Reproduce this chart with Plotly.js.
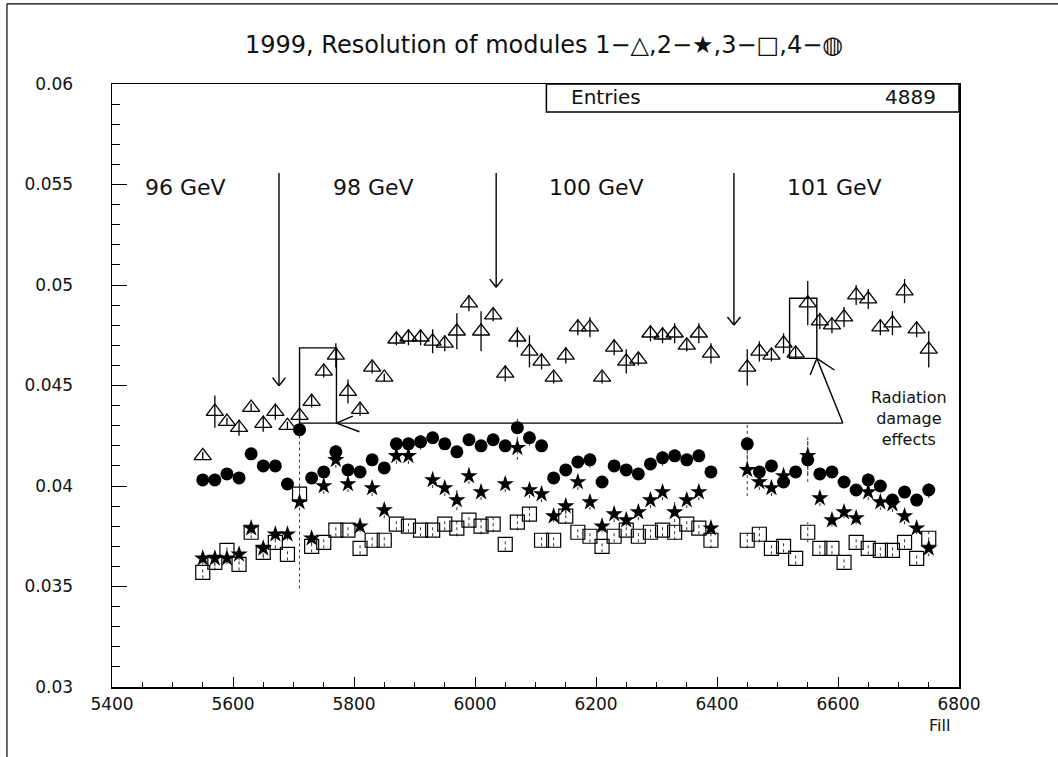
<!DOCTYPE html>
<html>
<head>
<meta charset="utf-8">
<script src="https://cdn.plot.ly/plotly-3.0.1.min.js"></script>
<style>html,body{margin:0;padding:0;background:#fff;}#chart{width:1058px;height:757px;}</style>
</head>
<body>
<div id="chart"></div>
<script>
// Fill numbers (bins)
const fills = [5550,5570,5590,5610,5630,5650,5670,5690,5710,5730,5750,5770,5790,5810,5830,5850,5870,5890,5910,5930,5950,5970,5990,6010,6030,6050,6070,6090,6110,6130,6150,6170,6190,6210,6230,6250,6270,6290,6310,6330,6350,6370,6390,
               6450,6470,6490,6510,6530,6550,6570,6590,6610,6630,6650,6670,6690,6710,6730,6750];

// Module 1 (triangles)
const mod1 = [0.0415,0.0437,0.0432,0.0429,0.0439,0.0431,0.0437,0.0430,0.0435,0.0442,0.0457,0.0465,0.0447,0.0438,0.0459,0.0454,0.0473,0.0474,0.0474,0.0472,0.0471,0.0477,0.0491,0.0477,0.0485,0.0456,0.0474,0.0467,0.0462,0.0454,0.0465,0.0479,0.0479,0.0454,0.0469,0.0462,0.0463,0.0476,0.0475,0.0476,0.0470,0.0476,0.0466,
              0.0459,0.0467,0.0465,0.0471,0.0466,0.0491,0.0482,0.0480,0.0484,0.0495,0.0493,0.0479,0.0481,0.0497,0.0478,0.0468];
const err1 = [0.0002,0.0008,0.0002,0.0004,0.0002,0.0004,0.0004,0.0002,0.0003,0.0003,0.0003,0.0006,0.0006,0.0003,0.0003,0.0002,0.0003,0.0004,0.0004,0.0006,0.0004,0.0009,0.0004,0.0010,0.0003,0.0004,0.0005,0.0008,0.0004,0.0003,0.0004,0.0004,0.0005,0.0003,0.0004,0.0006,0.0003,0.0004,0.0004,0.0005,0.0003,0.0005,0.0005,
              0.0009,0.0005,0.0003,0.0005,0.0003,0.0011,0.0004,0.0004,0.0005,0.0005,0.0005,0.0004,0.0006,0.0006,0.0004,0.0009];

// Module 2 (stars)
const mod2 = [0.0364,0.0364,0.0364,0.0366,0.0379,0.0369,0.0376,0.0376,0.0392,0.0374,0.0400,0.0413,0.0401,0.0380,0.0399,0.0388,0.0415,0.0415,null,0.0403,0.0399,0.0393,0.0405,0.0397,null,0.0401,0.0419,0.0398,0.0396,0.0385,0.0390,0.0402,0.0392,0.0380,0.0386,0.0383,0.0387,0.0393,0.0397,0.0387,0.0393,0.0397,0.0379,
              0.0408,0.0402,0.0399,0.0405,null,0.0415,0.0394,0.0383,0.0387,0.0384,0.0397,0.0392,0.0391,0.0385,0.0379,0.0369];
const err2 = [0.0003,0.0004,0.0003,0.0003,0.0003,0.0004,0.0003,0.0003,0.0043,0.0003,0.0004,0.0004,0.0004,0.0003,0.0004,0.0004,0.0004,0.0004,0,0.0004,0.0004,0.0005,0.0004,0.0004,0,0.0004,0.0006,0.0004,0.0004,0.0003,0.0004,0.0004,0.0004,0.0003,0.0004,0.0003,0.0004,0.0004,0.0004,0.0005,0.0004,0.0004,0.0003,
              0.0013,0.0004,0.0004,0.0004,0,0.0009,0.0004,0.0003,0.0003,0.0003,0.0004,0.0004,0.0004,0.0004,0.0003,0.0004];

// Module 3 (squares)
const mod3 = [0.0357,0.0362,0.0368,0.0361,0.0377,0.0367,0.0372,0.0366,0.0396,0.0370,0.0372,0.0378,0.0378,0.0369,0.0373,0.0373,0.0381,0.0380,0.0378,0.0378,0.0381,0.0379,0.0383,0.0380,0.0381,0.0371,0.0382,0.0386,0.0373,0.0373,0.0385,0.0377,0.0375,0.0370,0.0375,0.0378,0.0375,0.0377,0.0378,0.0377,0.0381,0.0379,0.0373,
              0.0373,0.0376,0.0369,0.0370,0.0364,0.0377,0.0369,0.0369,0.0362,0.0372,0.0369,0.0368,0.0368,0.0372,0.0364,0.0374];
const err3 = [0.0003,0.0004,0.0003,0.0003,0.0003,0.0003,0.0003,0.0003,0.0004,0.0003,0.0003,0.0003,0.0003,0.0003,0.0003,0.0003,0.0003,0.0003,0.0003,0.0003,0.0003,0.0004,0.0003,0.0004,0.0004,0.0003,0.0004,0.0004,0.0003,0.0003,0.0004,0.0003,0.0003,0.0003,0.0003,0.0003,0.0003,0.0003,0.0003,0.0004,0.0003,0.0003,0.0004,
              0.0004,0.0004,0.0003,0.0003,0.0003,0.0005,0.0003,0.0003,0.0003,0.0003,0.0003,0.0003,0.0003,0.0003,0.0003,0.0004];

// Module 4 (filled circles)
const mod4 = [0.0403,0.0403,0.0406,0.0404,0.0416,0.0410,0.0410,0.0401,0.0428,0.0404,0.0407,0.0417,0.0408,0.0407,0.0413,0.0409,0.0421,0.0421,0.0422,0.0424,0.0421,0.0417,0.0423,0.0420,0.0423,0.0420,0.0429,0.0424,0.0420,0.0404,0.0408,0.0412,0.0413,0.0402,0.0410,0.0408,0.0406,0.0411,0.0414,0.0415,0.0413,0.0415,0.0407,
              0.0421,0.0407,0.0410,0.0402,0.0407,0.0413,0.0406,0.0407,0.0402,0.0398,0.0403,0.0400,0.0393,0.0397,0.0393,0.0398];
const err4 = [0.0003,0.0003,0.0003,0.0003,0.0003,0.0003,0.0003,0.0003,0.0003,0.0003,0.0003,0.0004,0.0003,0.0003,0.0003,0.0003,0.0003,0.0003,0.0004,0.0003,0.0003,0.0003,0.0003,0.0003,0.0003,0.0003,0.0006,0.0004,0.0003,0.0003,0.0003,0.0003,0.0004,0.0003,0.0003,0.0003,0.0003,0.0003,0.0004,0.0003,0.0003,0.0003,0.0003,
              0.0010,0.0003,0.0003,0.0003,0.0003,0.0011,0.0003,0.0003,0.0003,0.0003,0.0004,0.0003,0.0003,0.0003,0.0003,0.0004];

// Beam energy labels
const energyLabels = ['96 GeV','98 GeV','100 GeV','101 GeV'];
const energyLabelX = [5522, 5832, 6200, 6594];
const energyArrowX = [5676, 6035, 6428];
const energyArrowTip = [0.04499, 0.04989, 0.04801];

const FONT = 'DejaVu Sans, Liberation Sans, sans-serif';

// dashed error bars built from the data arrays (Plotly error bars cannot be dashed)
function dashedBars(xs, ys, es){
  const bx = [], by = [];
  xs.forEach((x,i)=>{
    if (ys[i] === null || !es[i]) return;
    bx.push(x, x, null); by.push(ys[i]-es[i], ys[i]+es[i], null);
  });
  return {x:bx, y:by, type:'scatter', mode:'lines', hoverinfo:'skip', line:{color:'#333', width:1, dash:'3px,3px'}};
}

const traces = [
  dashedBars(fills, mod3, err3),
  dashedBars(fills, mod2, err2),
  dashedBars(fills, mod4, err4),
  {x:fills, y:mod3, type:'scatter', mode:'markers', name:'3',
   marker:{symbol:'square-open', size:14, color:'#000', line:{width:1.2, color:'#000'}}},
  {x:fills, y:mod2, type:'scatter', mode:'markers', name:'2',
   marker:{symbol:'star', size:13, color:'#000', line:{width:0}}},
  {x:fills, y:mod1, type:'scatter', mode:'markers', name:'1',
   error_y:{type:'data', array:err1, visible:true, thickness:1.3, width:0, color:'#000'},
   marker:{symbol:'triangle-up-open', size:15, color:'#000', line:{width:1.3, color:'#000'}}},
  {x:fills, y:mod4, type:'scatter', mode:'markers', name:'4',
   marker:{symbol:'circle', size:13, color:'#000', line:{width:0}}}
];

const L = {color:'#000', width:1.4};
const shapes = [
  // outer frame lines
  {type:'line', xref:'paper', yref:'paper', x0:-0.124, x1:-0.124, y0:1.133, y1:-0.117, line:{color:'#000', width:1.2}},
  {type:'line', xref:'paper', yref:'paper', x0:-0.124, x1:1.117, y0:1.133, y1:1.133, line:{color:'#000', width:1.2}},
  // Entries box
  {type:'rect', xref:'x', yref:'y', x0:6118, x1:6800, y0:0.05861, y1:0.06, line:{color:'#000', width:1.5}, fillcolor:'rgba(0,0,0,0)'},
  // radiation boxes
  {type:'rect', xref:'x', yref:'y', x0:5710, x1:5771, y0:0.04313, y1:0.04687, line:L},
  {type:'rect', xref:'x', yref:'y', x0:6520, x1:6565, y0:0.04635, y1:0.04934, line:L},
  {type:'line', xref:'x', yref:'y', x0:5771, x1:6608, y0:0.04313, y1:0.04313, line:L},
  {type:'line', xref:'x', yref:'y', x0:6608, x1:6565, y0:0.04313, y1:0.04635, line:L},
  {type:'line', xref:'x', yref:'y', x0:6565, x1:6554, y0:0.04635, y1:0.04552, line:L},
  {type:'line', xref:'x', yref:'y', x0:6565, x1:6594, y0:0.04635, y1:0.04577, line:L},
  {type:'line', xref:'x', yref:'y', x0:5771, x1:5809, y0:0.04313, y1:0.04270, line:L},
  {type:'line', xref:'x', yref:'y', x0:5771, x1:5798, y0:0.04313, y1:0.04348, line:L}
];
energyArrowX.forEach((ax,i)=>{
  const tip = energyArrowTip[i];
  shapes.push({type:'line', xref:'x', yref:'y', x0:ax, x1:ax, y0:0.05557, y1:tip, line:L});
  shapes.push({type:'line', xref:'x', yref:'y', x0:ax-10.7, x1:ax, y0:tip+0.0004, y1:tip, line:L});
  shapes.push({type:'line', xref:'x', yref:'y', x0:ax+10.7, x1:ax, y0:tip+0.0004, y1:tip, line:L});
});

const annotations = [
  {xref:'paper', yref:'paper', x:0.51, y:1.0647, xanchor:'center', yanchor:'middle', showarrow:false,
   text:'1999, Resolution of modules 1\u2212\u25B3,2\u2212\u2605,3\u2212\u25A1,4\u2212\u25CD', font:{family:FONT, size:24, color:'#111'}},
  {xref:'x', yref:'y', x:6156, y:0.05933, xanchor:'left', yanchor:'middle', showarrow:false, text:'Entries', font:{family:FONT, size:20, color:'#111'}},
  {xref:'x', yref:'y', x:6765, y:0.05933, xanchor:'right', yanchor:'middle', showarrow:false, text:'4889', font:{family:FONT, size:20, color:'#111'}},
  {xref:'x', yref:'y', x:6718, y:0.04338, xanchor:'center', yanchor:'middle', align:'center', showarrow:false,
   text:'Radiation<br>damage<br>effects', font:{family:FONT, size:16, color:'#111'}},
  {xref:'paper', yref:'paper', x:0.977, y:-0.064, xanchor:'center', yanchor:'middle', showarrow:false, text:'Fill', font:{family:FONT, size:16, color:'#111'}}
];
energyLabels.forEach((t,i)=>{
  annotations.push({xref:'x', yref:'y', x:energyLabelX[i], y:0.05487, xanchor:'center', yanchor:'middle', showarrow:false,
    text:t, font:{family:FONT, size:22, color:'#111'}});
});

const layout = {
  width:1058, height:757,
  margin:{l:112, r:99, t:84, b:70},
  paper_bgcolor:'#fff', plot_bgcolor:'#fff',
  showlegend:false,
  font:{family:FONT, color:'#111'},
  xaxis:{range:[5400,6800], tickvals:[5400,5600,5800,6000,6200,6400,6600,6800], ticks:'inside', ticklen:10, tickcolor:'#000',
         minor:{dtick:50, ticks:'inside', ticklen:5, tickcolor:'#000'},
         showgrid:false, zeroline:false, showline:true, linecolor:'#000', linewidth:1.5, mirror:true,
         tickfont:{family:FONT, size:17, color:'#111'}, ticklabelstandoff:1},
  yaxis:{range:[0.03,0.06], tickvals:[0.03,0.035,0.04,0.045,0.05,0.055,0.06], ticktext:['0.03','0.035','0.04','0.045','0.05','0.055','0.06'],
         ticks:'inside', ticklen:15, tickcolor:'#000',
         minor:{dtick:0.001, ticks:'inside', ticklen:8, tickcolor:'#000'},
         showgrid:false, zeroline:false, showline:true, linecolor:'#000', linewidth:1.5, mirror:true,
         tickfont:{family:FONT, size:17, color:'#111'}, ticklabelstandoff:34},
  shapes:shapes,
  annotations:annotations
};

Plotly.newPlot('chart', traces, layout, {staticPlot:true, displayModeBar:false});
</script>
</body>
</html>
